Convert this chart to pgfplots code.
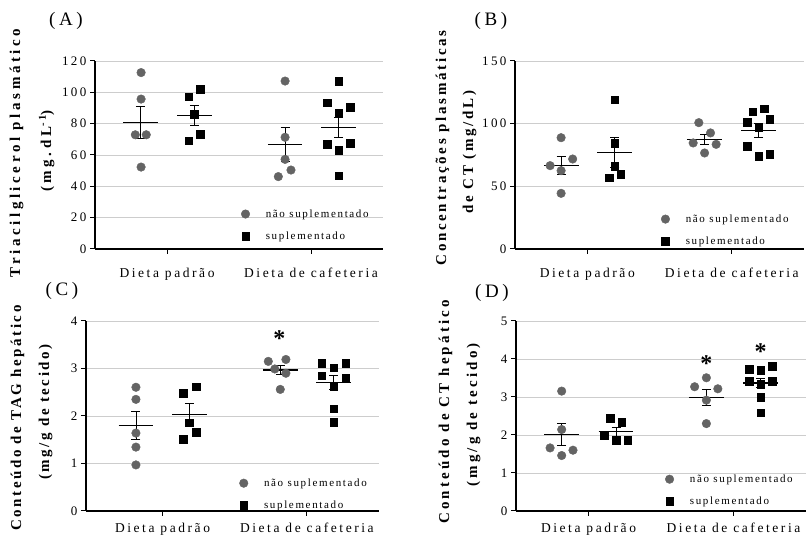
\documentclass[border=0pt]{standalone}
\usepackage{fontspec}
\setmainfont[LetterSpace=19]{Liberation Serif}
\newfontfamily\legfont[LetterSpace=15]{Liberation Serif}
\newfontfamily\ylabA[LetterSpace=24]{Liberation Serif}
\newfontfamily\ylabB[LetterSpace=18]{Liberation Serif}
\newfontfamily\ylabC[LetterSpace=17]{Liberation Serif}
\newfontfamily\ylabD[LetterSpace=21]{Liberation Serif}
\usepackage{pgfplots}
\pgfplotsset{compat=1.18}

\definecolor{circgray}{RGB}{100,100,100}
\definecolor{gridgray}{RGB}{205,205,205}

\tikzset{signif/.style={font=\bfseries\fontsize{24}{24}\selectfont, anchor=base}}

\pgfplotsset{
  panel/.style={
    scale only axis, anchor=south west, clip=false,
    xmin=-0.5, xmax=1.5, ymin=0,
    xtick={0,1}, xticklabels={Dieta padrão, Dieta de cafeteria},
    axis x line*=bottom, axis y line*=left,
    axis line style={black, line width=1.2pt, -},
    ymajorgrids, grid style={draw=gridgray, line width=0.9pt},
    tick align=outside, major tick length=5pt,
    tick style={black, line width=1pt},
    xticklabel style={font=\fontsize{13.5}{14}\selectfont, anchor=base, inner sep=0pt},
    yticklabel style={font=\fontsize{13}{14}\selectfont},
    /pgf/number format/assume math mode=true,
    legend cell align=left,
    legend style={draw=none, fill=none, inner sep=0pt, row sep=10pt,
      font=\legfont\fontsize{11}{13}\selectfont,
      nodes={inner sep=0pt, text height=9pt, text depth=3pt},
      /tikz/every odd column/.append style={column sep=16pt}},
    legend image code/.code={%
      \draw[mark repeat=2, mark phase=2, ##1] plot coordinates {(0pt,0pt) (6pt,0pt) (12pt,0pt)};},
  },
  circ/.style={only marks, mark=*, mark size=4.3pt, color=circgray,
    mark options={draw=circgray, fill=circgray}},
  sqr/.style={only marks, mark=square*, mark size=3.8pt, color=black,
    mark options={draw=black, fill=black}},
  meanline/.style={forget plot, black, line width=1.3pt, mark=none},
  sembar/.style={forget plot, draw=none, mark=none,
    error bars/.cd, y dir=both, y explicit,
    error bar style={line width=0.8pt, draw=black},
    error mark options={rotate=90, mark size=4.5pt, line width=0.8pt, draw=black}},
}

\begin{document}
\begin{tikzpicture}[x=1pt, y=1pt]
\useasboundingbox (0,0) rectangle (808,537);

% ---------- (A) plasma triacylglycerol ----------
\begin{axis}[panel, at={(95pt,288pt)}, width=288pt, height=188pt,
  ymax=120, ytick={0,20,...,120},
  xticklabel style={yshift=-24pt},
  legend style={at={(0.507,0.219)}, anchor=north west}]
\addplot[circ] coordinates {
  (-0.18,112.6) (-0.18,95.7) (-0.22,72.9) (-0.144,72.9) (-0.18,52.3)
  (0.82,107.2) (0.82,71.3) (0.82,57.2) (0.861,50.4) (0.773,46.2)};
\addlegendentry{não suplementado}
\addplot[sqr] coordinates {
  (0.15,97.2) (0.231,102) (0.19,86.1) (0.231,73.4) (0.15,69)
  (1.192,107.2) (1.111,93.4) (1.273,90.4) (1.192,86.9) (1.111,67)
  (1.273,67.4) (1.192,63.2) (1.192,46.8)};
\addlegendentry{suplementado}
\addplot[meanline] coordinates {(-0.305,80.8) (-0.065,80.8)};
\addplot[meanline] coordinates {(0.07,85.1) (0.31,85.1)};
\addplot[meanline] coordinates {(0.70,66.8) (0.94,66.8)};
\addplot[meanline] coordinates {(1.072,77.7) (1.312,77.7)};
\addplot[sembar] coordinates {
  (-0.185,80.8) +- (0,10.5) (0.19,85.1) +- (0,6.5)
  (0.82,66.8) +- (0,10.6) (1.192,77.7) +- (0,6.6)};
\end{axis}

% ---------- (B) plasma total cholesterol ----------
\begin{axis}[panel, at={(515pt,288pt)}, width=289pt, height=188pt,
  ymax=150, ytick={0,50,100,150},
  xticklabel style={yshift=-24pt},
  legend style={at={(0.505,0.192)}, anchor=north west}]
\addplot[circ] coordinates {
  (-0.181,88.8) (-0.101,71.8) (-0.257,66.5) (-0.181,62.5) (-0.181,44.4)
  (0.772,100.8) (0.853,92.6) (0.733,84.6) (0.892,83.5) (0.812,76.6)};
\addlegendentry{não suplementado}
\addplot[sqr] coordinates {
  (0.191,119.1) (0.191,84.3) (0.191,66.2) (0.232,59.8) (0.152,56.9)
  (1.225,111.9) (1.145,109.6) (1.262,103.7) (1.106,101.3) (1.186,97.3)
  (1.106,82.2) (1.262,75.5) (1.186,74.2)};
\addlegendentry{suplementado}
\addplot[meanline] coordinates {(-0.30,66.8) (-0.06,66.8)};
\addplot[meanline] coordinates {(0.07,77.1) (0.31,77.1)};
\addplot[meanline] coordinates {(0.69,87.5) (0.93,87.5)};
\addplot[meanline] coordinates {(1.066,94.7) (1.306,94.7)};
\addplot[sembar] coordinates {
  (-0.181,66.8) +- (0,7.2) (0.191,77.1) +- (0,12)
  (0.812,87.5) +- (0,4.2) (1.186,94.7) +- (0,5.5)};
\end{axis}

% ---------- (C) hepatic TAG ----------
\begin{axis}[panel, at={(86pt,26pt)}, width=293pt, height=190pt,
  xmin=-0.53, ymax=4, ytick={0,1,...,4},
  xticklabel style={yshift=-17pt},
  legend style={at={(0.523,0.179)}, anchor=north west}]
\addplot[circ] coordinates {
  (-0.184,2.605) (-0.184,2.35) (-0.184,1.64) (-0.184,1.345) (-0.184,0.97)
  (0.733,3.15) (0.855,3.19) (0.778,2.99) (0.855,2.90) (0.816,2.56)};
\addlegendentry{não suplementado}
\addplot[sqr] coordinates {
  (0.145,2.485) (0.233,2.62) (0.187,1.855) (0.233,1.657) (0.145,1.515)
  (1.104,3.115) (1.268,3.115) (1.185,3.016) (1.104,2.846) (1.268,2.79)
  (1.185,2.62) (1.185,2.15) (1.185,1.87)};
\addlegendentry{suplementado}
\addplot[meanline] coordinates {(-0.304,1.80) (-0.064,1.80)};
\addplot[meanline] coordinates {(0.067,2.025) (0.307,2.025)};
\addplot[meanline] coordinates {(0.696,2.966) (0.936,2.966)};
\addplot[meanline] coordinates {(1.065,2.71) (1.305,2.71)};
\addplot[sembar] coordinates {
  (-0.184,1.80) +- (0,0.30) (0.187,2.025) +- (0,0.23)
  (0.816,2.966) +- (0,0.10) (1.185,2.71) +- (0,0.15)};
\node[signif] at (axis cs:0.81,3.47) {*};
\end{axis}

% ---------- (D) hepatic total cholesterol ----------
\begin{axis}[panel, at={(516pt,26pt)}, width=290pt, height=190pt,
  ymax=5, ytick={0,1,...,5},
  xticklabel style={yshift=-17pt},
  legend style={at={(0.514,0.20)}, anchor=north west}]
\addplot[circ] coordinates {
  (-0.185,3.155) (-0.185,2.144) (-0.265,1.66) (-0.107,1.60) (-0.185,1.46)
  (0.813,3.506) (0.732,3.27) (0.892,3.216) (0.813,2.917) (0.813,2.30)};
\addlegendentry{não suplementado}
\addplot[sqr] coordinates {
  (0.149,2.44) (0.229,2.34) (0.108,1.995) (0.19,1.845) (0.27,1.87)
  (1.108,3.735) (1.187,3.71) (1.268,3.81) (1.108,3.42) (1.268,3.42)
  (1.187,3.33) (1.187,3.00) (1.187,2.59)};
\addlegendentry{suplementado}
\addplot[meanline] coordinates {(-0.305,2.01) (-0.065,2.01)};
\addplot[meanline] coordinates {(0.07,2.09) (0.31,2.09)};
\addplot[meanline] coordinates {(0.693,2.99) (0.933,2.99)};
\addplot[meanline] coordinates {(1.067,3.37) (1.307,3.37)};
\addplot[sembar] coordinates {
  (-0.185,2.01) +- (0,0.29) (0.19,2.09) +- (0,0.12)
  (0.813,2.99) +- (0,0.20) (1.187,3.37) +- (0,0.12)};
\node[signif] at (axis cs:0.813,3.68) {*};
\node[signif] at (axis cs:1.187,3.99) {*};
\end{axis}

% panel letters
\node[font=\fontsize{19}{20}\selectfont] at (66,516) {(A)};
\node[font=\fontsize{19}{20}\selectfont] at (491,516) {(B)};
\node[font=\fontsize{19}{20}\selectfont] at (62,246) {(C)};
\node[font=\fontsize{19}{20}\selectfont] at (492,244) {(D)};

% y-axis titles
\begin{scope}[every node/.style={rotate=90, anchor=base}]
\node[font=\ylabA\bfseries\fontsize{15}{16}\selectfont] at (20,384) {Triacilglicerol plasmático};
\node[font=\ylabA\bfseries\fontsize{15}{16}\selectfont] at (51,386) {(mg.dL\textsuperscript{-1})};
\node[font=\ylabB\bfseries\fontsize{15}{16}\selectfont] at (446,389) {Concentrações plasmáticas};
\node[font=\ylabB\bfseries\fontsize{15}{16}\selectfont] at (473,385) {de CT (mg/dL)};
\node[font=\ylabC\bfseries\fontsize{15}{16}\selectfont] at (21,119) {Conteúdo de TAG hepático};
\node[font=\ylabC\bfseries\fontsize{15}{16}\selectfont] at (49,125) {(mg/g de tecido)};
\node[font=\ylabD\bfseries\fontsize{15}{16}\selectfont] at (449,125) {Conteúdo de CT hepático};
\node[font=\ylabD\bfseries\fontsize{15}{16}\selectfont] at (477,122) {(mg/g de tecido)};
\end{scope}
\end{tikzpicture}
\end{document}
